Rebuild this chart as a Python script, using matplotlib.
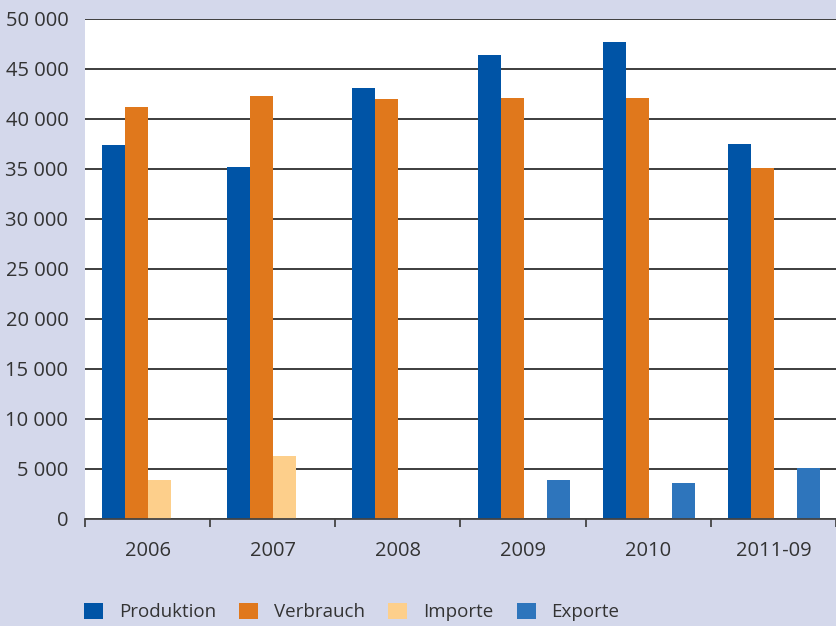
import numpy as np
import matplotlib

matplotlib.use("Agg")
import matplotlib.pyplot as plt
from matplotlib.patches import Patch
from matplotlib.ticker import FixedLocator, FuncFormatter

plt.rcParams["font.family"] = ["Open Sans", "DejaVu Sans"]

years = ["2006", "2007", "2008", "2009", "2010", "2011-09"]
produktion = [37400, 35200, 43100, 46450, 47750, 37500]
verbrauch = [41200, 42300, 42050, 42100, 42150, 35100]
importe = [3880, 6300, 0, 0, 0, 0]
exporte = [0, 0, 0, 3880, 3570, 5150]

series = [
    ("Produktion", produktion, "#0054a6"),
    ("Verbrauch", verbrauch, "#e0781c"),
    ("Importe", importe, "#fdcf8b"),
    ("Exporte", exporte, "#2e75bc"),
]

bg = "#d4d8eb"
ink = "#333333"
fs = 14.5

fig = plt.figure(figsize=(8.36, 6.26), dpi=100, facecolor=bg)
ax = fig.add_axes([85 / 836, 107 / 626, 751 / 836, 500 / 626])
ax.set_facecolor("white")

x = np.arange(len(years))
width = 0.184
start = -0.5 + 17 / 125 + width / 2
for k, (name, vals, color) in enumerate(series):
    ax.bar(x + start + k * width, vals, width, color=color, zorder=3, linewidth=0)

ax.set_xlim(-0.5, len(years) - 0.5)
ax.set_ylim(0, 50000)
ax.set_yticks(np.arange(0, 50001, 5000))
ax.yaxis.set_major_formatter(FuncFormatter(lambda v, p: f"{int(v):,}".replace(",", " ")))
ax.yaxis.grid(True, color="#2e2e2e", linewidth=1.3, zorder=1)
ax.tick_params(axis="y", length=0, pad=12, labelsize=fs, labelcolor=ink)

ax.xaxis.set_major_locator(FixedLocator(np.arange(-0.5, len(years), 1.0)))
ax.xaxis.set_minor_locator(FixedLocator(x))
ax.xaxis.set_major_formatter(FuncFormatter(lambda v, p: ""))
ax.set_xticklabels(years, minor=True)
ax.tick_params(axis="x", which="major", direction="out", length=6, width=1.3, color="#444444")
ax.tick_params(axis="x", which="minor", length=0, pad=16, labelsize=fs, labelcolor=ink)

for side in ["left", "right", "top"]:
    ax.spines[side].set_visible(False)
ax.spines["bottom"].set_color("#444444")
ax.spines["bottom"].set_linewidth(1.3)
ax.spines["bottom"].set_zorder(4)

handles = [Patch(facecolor=c, edgecolor="none", label=n) for n, _, c in series]
fig.legend(handles=handles, loc="center left", bbox_to_anchor=(84 / 836, 14 / 626),
           ncol=4, frameon=False, fontsize=13.5, labelcolor=ink,
           handlelength=1.0, handleheight=1.0, handletextpad=0.85,
           columnspacing=1.25, borderpad=0, borderaxespad=0)

fig.savefig("out.png", dpi=100, facecolor=bg)
